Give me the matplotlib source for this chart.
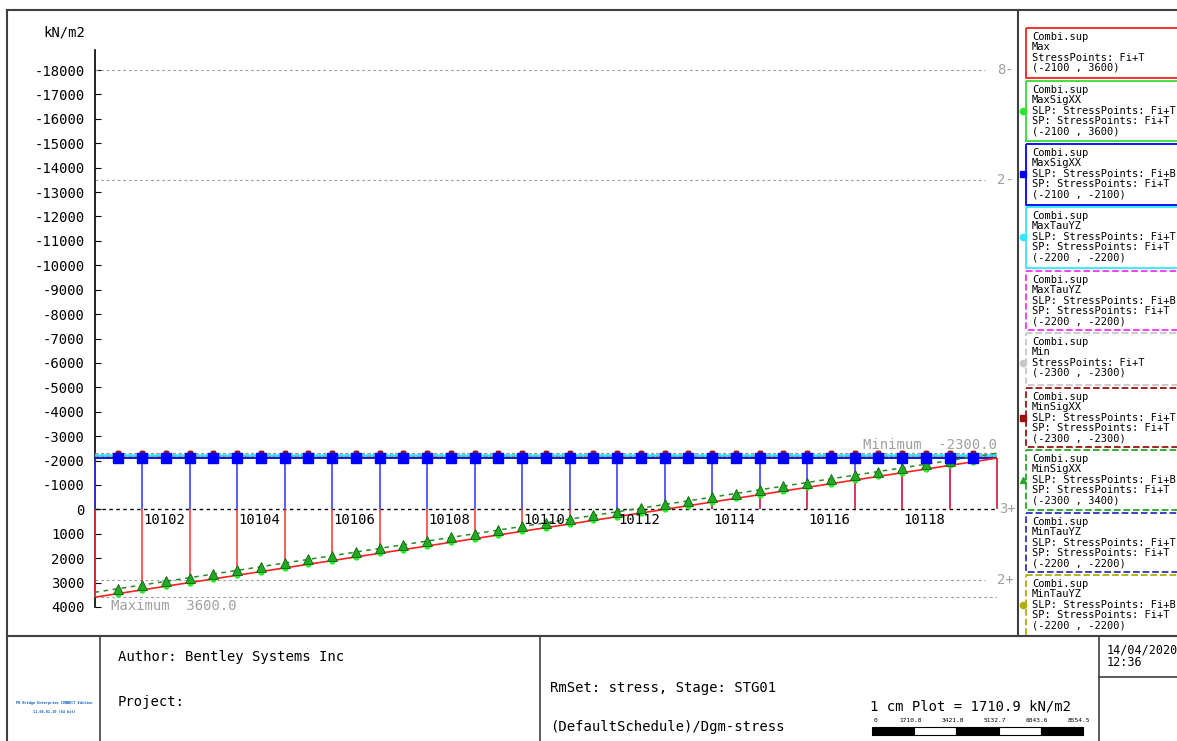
import numpy as np
import matplotlib.pyplot as plt
from matplotlib.patches import Rectangle

plt.rcParams['font.family'] = 'DejaVu Sans Mono'
plt.rcParams['axes.unicode_minus'] = False

# nodes along the girder
nodes = list(range(10101, 10121))
node_pos = np.arange(len(nodes))
half_pos = np.arange(1, 38) * 0.5          # result points between nodes

# Max envelope at the nodes (kN/m2)
max_nodes = [3600, 3300, 3000, 2700, 2400, 2100, 1800, 1500, 1200, 900,
             600, 300, 0, -300, -600, -900, -1200, -1500, -1800, -2100]
# MaxSigXX Fi+T at the result points
maxsig_t = [3450, 3300, 3150, 3000, 2850, 2700, 2550, 2400, 2250, 2100,
            1950, 1800, 1650, 1500, 1350, 1200, 1050, 900, 750, 600,
            450, 300, 150, 0, -150, -300, -450, -600, -750, -900,
            -1050, -1200, -1350, -1500, -1650, -1800, -1950]
# MinSigXX Fi+B
minsig_b_ends = [3400, -2300]
minsig_b = [3250, 3100, 2950, 2800, 2650, 2500, 2350, 2200, 2050, 1900,
            1750, 1600, 1450, 1300, 1150, 1000, 850, 700, 550, 400,
            250, 100, -50, -200, -350, -500, -650, -800, -950, -1100,
            -1250, -1400, -1550, -1700, -1850, -2000, -2150]
# constant components
maxsig_b = -2100
maxtau_t = -2200
maxtau_b = -2200
min_env = -2300
minsig_t = -2300
mintau_t = -2200
mintau_b = -2200

ref_lines = [-18000, -13500, 2900]
ref_tags = ['8-', '2-', '2+']
y_min, y_max = -2300, 3600

W, H = 1177, 741
fig = plt.figure(figsize=(W / 100, H / 100), dpi=100)
ax = fig.add_axes([94.5 / W, 1 - 607 / H, (997 - 94.5) / W, 557 / H])
ax.set_facecolor('none')
ax.set_xlim(0, 19)
ax.set_ylim(4000, -18820)
for s in ['top', 'right', 'bottom']:
    ax.spines[s].set_visible(False)
ax.spines['left'].set_linewidth(1.2)
ax.set_xticks([])
ax.set_yticks(np.arange(-18000, 4001, 1000))
ax.tick_params(axis='y', direction='in', length=4, pad=7, labelsize=10)

gray = '#a0a0a0'
dash = (0, (2.5, 2.5))
for v, tag in zip(ref_lines, ref_tags):
    ax.plot([0, 18.75], [v, v], color=gray, lw=0.8, ls=dash)
    ax.text(19.0, v, tag, color=gray, fontsize=10, va='center', ha='left')
ax.plot([0, 19], [y_max, y_max], color=gray, lw=0.8, ls=dash)
ax.plot([0, 19], [y_min, y_min], color=gray, lw=0.8, ls=dash, zorder=4)
ax.plot([0, 19], [0, 0], color='black', lw=1.0, ls=dash)
ax.text(19.05, 0, '3+', color=gray, fontsize=10, va='center', ha='left')
ax.text(19, -2620, 'Minimum  %.1f' % y_min, color=gray, fontsize=10,
        ha='right', va='center')
ax.text(0.35, 3950, 'Maximum  %.1f' % y_max, color=gray, fontsize=10,
        ha='left', va='center')

# stems at the nodes
ax.vlines(node_pos, maxsig_b, 0, color='#3030ff', lw=1.1, zorder=3, clip_on=False)
ax.vlines(node_pos, 0, max_nodes, color='#ff3030', lw=1.1, zorder=3.1, clip_on=False)

for i in range(1, 18, 2):
    ax.text(node_pos[i] + 0.03, 420, str(nodes[i]), fontsize=10,
            ha='left', va='center', zorder=6)

full = [0, 19]
ax.plot(full, [maxtau_t] * 2, color='#30e8ff', lw=2.6, zorder=3.5)
ax.plot(full, [maxtau_b] * 2, color='#ff30ff', lw=0.8, ls=dash, zorder=3.6)
ax.plot(full, [mintau_t] * 2, color='#3030c0', lw=0.8, ls=dash, zorder=3.6)
ax.plot(full, [mintau_b] * 2, color='#b0b000', lw=0.8, ls=dash, zorder=3.6)
ax.plot(full, [minsig_t] * 2, color='#a01010', lw=0.8, ls=dash, zorder=3.7)
ax.plot(full, [maxsig_b] * 2, color='#0000ff', lw=1.3, zorder=3.8)
ax.plot(node_pos, max_nodes, color='#ff2020', lw=1.2, zorder=4)
ax.plot([0] + list(half_pos) + [19],
        [minsig_b_ends[0]] + minsig_b + [minsig_b_ends[1]],
        color='#2a8a2a', lw=1.1, ls=(0, (3, 3)), zorder=4)

n = len(half_pos)
ax.plot(half_pos, [min_env] * n, ls='none', marker='o', ms=4,
        color='#b8b8b8', zorder=5)
ax.plot(half_pos, [minsig_t] * n, ls='none', marker='s', ms=3,
        color='#a01010', zorder=5)
ax.plot(half_pos, [maxtau_t] * n, ls='none', marker='o', ms=3,
        color='#30e8ff', zorder=5)
ax.plot(half_pos, [maxsig_b] * n, ls='none', marker='s', ms=6.5,
        color='#0000ff', zorder=5.5)
ax.plot(half_pos, maxsig_t, ls='none', marker='o', ms=3.5,
        color='#20ee20', zorder=5)
ax.plot(half_pos, minsig_b, ls='none', marker='^', ms=6.5,
        color='#22aa22', mec='#106010', mew=0.6, zorder=5.2)

# drawing frame, legend column and title block
ov = fig.add_axes([0, 0, 1, 1], zorder=-1)
ov.set_xlim(0, W)
ov.set_ylim(H, 0)
ov.axis('off')
fc = '#404040'
ov.plot([7, W], [10, 10], color=fc, lw=1.5)
ov.plot([7, 7], [10, H], color=fc, lw=1.5)
ov.plot([1018, 1018], [10, 636], color=fc, lw=1.5)
ov.plot([7, W], [636, 636], color=fc, lw=1.5)
for xv in [100, 540, 1099]:
    ov.plot([xv, xv], [636, H], color=fc, lw=1.2)
ov.plot([1099, W], [677, 677], color=fc, lw=1.2)

ov.text(85, 33, 'kN/m2', fontsize=10, ha='right', va='center')

boxes = [
    (28, 78, '#ff2020', '-', None, ['Combi.sup', 'Max', 'StressPoints: Fi+T', '(-2100 , 3600)']),
    (81, 141, '#30e030', '-', ('o', '#20ee20'), ['Combi.sup', 'MaxSigXX', 'SLP: StressPoints: Fi+T', 'SP: StressPoints: Fi+T', '(-2100 , 3600)']),
    (144, 205, '#0000ff', '-', ('s', '#0000ff'), ['Combi.sup', 'MaxSigXX', 'SLP: StressPoints: Fi+B', 'SP: StressPoints: Fi+T', '(-2100 , -2100)']),
    (207, 268, '#30e8ff', '-', ('o', '#30e8ff'), ['Combi.sup', 'MaxTauYZ', 'SLP: StressPoints: Fi+T', 'SP: StressPoints: Fi+T', '(-2200 , -2200)']),
    (271, 330, '#ff30ff', '--', None, ['Combi.sup', 'MaxTauYZ', 'SLP: StressPoints: Fi+B', 'SP: StressPoints: Fi+T', '(-2200 , -2200)']),
    (333, 385, '#c8c8c8', '--', ('o', '#c8c8c8'), ['Combi.sup', 'Min', 'StressPoints: Fi+T', '(-2300 , -2300)']),
    (388, 447, '#a01010', '--', ('s', '#a01010'), ['Combi.sup', 'MinSigXX', 'SLP: StressPoints: Fi+T', 'SP: StressPoints: Fi+T', '(-2300 , -2300)']),
    (450, 510, '#22aa22', '--', ('^', '#22aa22'), ['Combi.sup', 'MinSigXX', 'SLP: StressPoints: Fi+B', 'SP: StressPoints: Fi+T', '(-2300 , 3400)']),
    (513, 572, '#3030c0', '--', None, ['Combi.sup', 'MinTauYZ', 'SLP: StressPoints: Fi+T', 'SP: StressPoints: Fi+T', '(-2200 , -2200)']),
    (575, 636, '#b0b000', '--', ('o', '#b0b000'), ['Combi.sup', 'MinTauYZ', 'SLP: StressPoints: Fi+B', 'SP: StressPoints: Fi+T', '(-2200 , -2200)']),
]
for top, bot, col, ls, mk, lines in boxes:
    ov.add_patch(Rectangle((1026, top), 200, bot - top, fill=False,
                           edgecolor=col, lw=1.3, ls=ls))
    for k, line in enumerate(lines):
        ov.text(1032, top + 9 + k * 10.3, line, fontsize=7.5,
                ha='left', va='center')
    if mk is not None:
        ov.plot(1023, top + 9 + 2 * 10.3, marker=mk[0], color=mk[1],
                ms=4.5, ls='none', clip_on=False)

ov.text(54, 703, 'PB Bridge Enterprise CONNECT Edition', fontsize=2.6,
        color='#1060c0', ha='center', va='center', weight='bold')
ov.text(54, 712, '11.06.01.10 (64 bit)', fontsize=2.6,
        color='#1060c0', ha='center', va='center', weight='bold')
ov.text(118, 657, 'Author: Bentley Systems Inc', fontsize=10, va='center')
ov.text(118, 702, 'Project:', fontsize=10, va='center')
ov.text(550, 688, 'RmSet: stress, Stage: STG01', fontsize=10, va='center')
ov.text(550, 727, '(DefaultSchedule)/Dgm-stress', fontsize=10, va='center')
ov.text(870, 706, '1 cm Plot = 1710.9 kN/m2', fontsize=10, va='center')
ov.text(1107, 650, '14/04/2020', fontsize=8.5, va='center')
ov.text(1107, 663, '12:36', fontsize=8.5, va='center')

scale_vals = ['0', '1710.8', '3421.8', '5132.7', '6843.6', '8554.5']
seg = 42.2
for k in range(5):
    ov.add_patch(Rectangle((872 + k * seg, 727), seg, 8,
                           facecolor='black' if k % 2 == 0 else 'white',
                           edgecolor='black', lw=0.8))
for k, lab in enumerate(scale_vals):
    ov.text(872 + k * seg + (2 if k == 0 else -4), 721, lab, fontsize=4.5,
            ha='left' if k == 0 else 'center', va='center')

fig.savefig('out.png', dpi=100)
